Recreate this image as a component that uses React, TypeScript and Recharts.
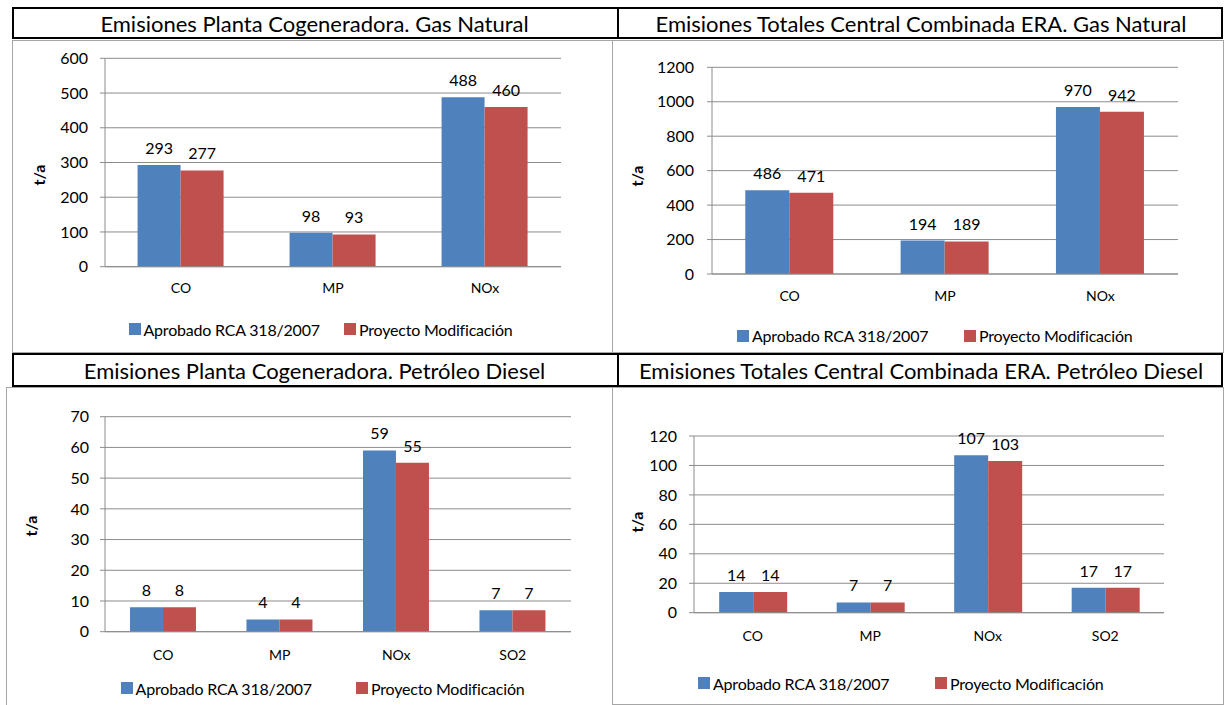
import React from 'react';
import { BarChart, Bar, XAxis, YAxis, CartesianGrid, Legend, LabelList } from 'recharts';

const FONT = 'Lato, "Noto Sans", sans-serif';

// ---------- data ----------
const seriesNames = ['Aprobado RCA 318/2007', 'Proyecto Modificación'];
const seriesColors = ['#4F81BD', '#C0504D'];

const gasCategories = ['CO', 'MP', 'NOx'];
const dieselCategories = ['CO', 'MP', 'NOx', 'SO2'];

const chartTitles = [
  'Emisiones Planta Cogeneradora. Gas Natural',
  'Emisiones Totales Central Combinada ERA. Gas Natural',
  'Emisiones Planta Cogeneradora. Petróleo Diesel',
  'Emisiones Totales Central Combinada ERA. Petróleo Diesel',
];

const plantaGasAprobado = [293, 98, 488];
const plantaGasProyecto = [277, 93, 460];
const totalGasAprobado = [486, 194, 970];
const totalGasProyecto = [471, 189, 942];
const plantaDieselAprobado = [8, 4, 59, 7];
const plantaDieselProyecto = [8, 4, 55, 7];
const totalDieselAprobado = [14, 7, 107, 17];
const totalDieselProyecto = [14, 7, 103, 17];

const ticksPlantaGas = [0, 100, 200, 300, 400, 500, 600];
const ticksTotalGas = [0, 200, 400, 600, 800, 1000, 1200];
const ticksPlantaDiesel = [0, 10, 20, 30, 40, 50, 60, 70];
const ticksTotalDiesel = [0, 20, 40, 60, 80, 100, 120];

const yAxisTitle = 't/a';

const buildRows = (cats: string[], a: number[], p: number[]) =>
  cats.map((c, i) => ({ cat: c, aprobado: a[i], proyecto: p[i] }));

// ---------- layout ----------
type Layout = {
  bx: number; by: number; bw: number; bh: number;
  plotL: number; plotR: number; plotT: number; plotB: number;
  yTickMargin: number; xTickMargin: number;
  legendY: number; legendXs: number[];
  yLabelX: number; yLabelY: number;
};

const layouts: Layout[] = [
  { bx: 12, by: 40, bw: 600, bh: 312, plotL: 105, plotR: 561, plotT: 58.3, plotB: 266.7,
    yTickMargin: 12, xTickMargin: 10.5, legendY: 329, legendXs: [128.5, 344], yLabelX: 38, yLabelY: 175 },
  { bx: 612, by: 40, bw: 610, bh: 312, plotL: 712, plotR: 1178, plotT: 67.3, plotB: 274,
    yTickMargin: 13, xTickMargin: 11.5, legendY: 335.5, legendXs: [737, 964], yLabelX: 636, yLabelY: 176 },
  { bx: 6, by: 387, bw: 606, bh: 318, plotL: 105, plotR: 571, plotT: 416.7, plotB: 631.7,
    yTickMargin: 11, xTickMargin: 12.5, legendY: 688, legendXs: [120.6, 356], yLabelX: 30.6, yLabelY: 526 },
  { bx: 612, by: 387, bw: 610, bh: 317, plotL: 694, plotR: 1164, plotT: 436, plotB: 612.7,
    yTickMargin: 12, xTickMargin: 12, legendY: 683, legendXs: [698, 935], yLabelX: 636, yLabelY: 522 },
];

const GRID = '#8c8c8c';
const X_AXIS_H = 30;

type ChartProps = {
  rows: { cat: string; aprobado: number; proyecto: number }[];
  ticks: number[];
  L: Layout;
};

function EmissionChart({ rows, ticks, L }: ChartProps) {
  const yAxisW = L.plotL - L.bx;
  const margin = {
    top: L.plotT - L.by,
    right: L.bx + L.bw - L.plotR,
    left: 0,
    bottom: L.by + L.bh - L.plotB - X_AXIS_H,
  };
  const legendContent = (props: any) => {
    const payload = props.payload || [];
    return (
      <div style={{ position: 'relative', width: L.bw, height: 20 }}>
        {payload.map((entry: any, i: number) => (
          <div
            key={i}
            style={{
              position: 'absolute', left: L.legendXs[i] - L.bx, top: 0, height: 20,
              display: 'flex', alignItems: 'center', whiteSpace: 'nowrap',
            }}
          >
            <span style={{ display: 'inline-block', width: 12, height: 12, background: entry.color, marginRight: 3 }} />
            <span style={{ fontFamily: FONT, fontSize: 16, color: '#000', letterSpacing: -0.2 }}>{entry.value}</span>
          </div>
        ))}
      </div>
    );
  };
  return (
    <div style={{ position: 'absolute', left: L.bx, top: L.by, width: L.bw, height: L.bh }}>
      <BarChart width={L.bw} height={L.bh} data={rows} margin={margin} barCategoryGap="21.43%" barGap={0}>
        <CartesianGrid vertical={false} stroke={GRID} strokeWidth={1} />
        <XAxis
          dataKey="cat"
          height={X_AXIS_H}
          axisLine={{ stroke: GRID }}
          tickLine={false}
          tickSize={0}
          tickMargin={L.xTickMargin + 6}
          tick={{ fontFamily: FONT, fontSize: 14, fill: '#000' }}
          interval={0}
        />
        <YAxis
          width={yAxisW}
          domain={[ticks[0], ticks[ticks.length - 1]]}
          ticks={ticks}
          interval={0}
          axisLine={{ stroke: GRID }}
          tickLine={{ stroke: GRID }}
          tickSize={5}
          tickMargin={L.yTickMargin}
          tick={{ fontFamily: FONT, fontSize: 16, fill: '#000' }}
          label={{
            content: () => (
              <text
                x={L.yLabelX - L.bx}
                y={L.yLabelY - L.by}
                transform={`rotate(-90 ${L.yLabelX - L.bx} ${L.yLabelY - L.by})`}
                textAnchor="middle"
                dominantBaseline="central"
                fontFamily={FONT}
                fontWeight="bold"
                fontSize={16}
                fill="#000"
              >
                {yAxisTitle}
              </text>
            ),
          }}
        />
        <Legend
          layout="vertical"
          align="center"
          verticalAlign="middle"
          content={legendContent}
          wrapperStyle={{ left: 0, top: L.legendY - L.by - 10, width: L.bw, height: 20 }}
        />
        <Bar dataKey="aprobado" name={seriesNames[0]} fill={seriesColors[0]} isAnimationActive={false}>
          <LabelList dataKey="aprobado" position="top" offset={11} style={{ fontFamily: FONT, fontSize: 16, fill: '#000' }} />
        </Bar>
        <Bar dataKey="proyecto" name={seriesNames[1]} fill={seriesColors[1]} isAnimationActive={false}>
          <LabelList dataKey="proyecto" position="top" offset={11} style={{ fontFamily: FONT, fontSize: 16, fill: '#000' }} />
        </Bar>
      </BarChart>
    </div>
  );
}

function TitleRow({ top, height, left, right }: { top: number; height: number; left: string; right: string }) {
  const cell = (x: number, w: number, txt: string) => (
    <div
      style={{
        position: 'absolute', left: x, top: top, width: w, height: height,
        display: 'flex', alignItems: 'center', justifyContent: 'center',
        fontFamily: FONT, fontSize: 22, color: '#000', whiteSpace: 'nowrap',
      }}
    >
      {txt}
    </div>
  );
  return (
    <>
      <div style={{ position: 'absolute', left: 12, top, width: 1211, height, border: '2px solid #000', boxSizing: 'border-box' }} />
      <div style={{ position: 'absolute', left: 617, top, width: 2, height, background: '#000' }} />
      {cell(12, 605, left)}
      {cell(619, 604, right)}
    </>
  );
}

const boxStyle = (l: number, t: number, w: number, h: number): React.CSSProperties => ({
  position: 'absolute', left: l, top: t, width: w, height: h, border: '1px solid #a6a6a6', boxSizing: 'border-box',
});

export default function App() {
  return (
    <div style={{ position: 'absolute', left: 0, top: 0, width: 1224, height: 705, background: '#fff', overflow: 'hidden' }}>
      <div style={boxStyle(12, 40, 601, 313)} />
      <div style={boxStyle(612, 40, 612, 313)} />
      <div style={boxStyle(6, 387, 607, 330)} />
      <div style={boxStyle(612, 387, 612, 318)} />
      <TitleRow top={7} height={32} left={chartTitles[0]} right={chartTitles[1]} />
      <TitleRow top={353} height={34} left={chartTitles[2]} right={chartTitles[3]} />
      <EmissionChart rows={buildRows(gasCategories, plantaGasAprobado, plantaGasProyecto)} ticks={ticksPlantaGas} L={layouts[0]} />
      <EmissionChart rows={buildRows(gasCategories, totalGasAprobado, totalGasProyecto)} ticks={ticksTotalGas} L={layouts[1]} />
      <EmissionChart rows={buildRows(dieselCategories, plantaDieselAprobado, plantaDieselProyecto)} ticks={ticksPlantaDiesel} L={layouts[2]} />
      <EmissionChart rows={buildRows(dieselCategories, totalDieselAprobado, totalDieselProyecto)} ticks={ticksTotalDiesel} L={layouts[3]} />
    </div>
  );
}
